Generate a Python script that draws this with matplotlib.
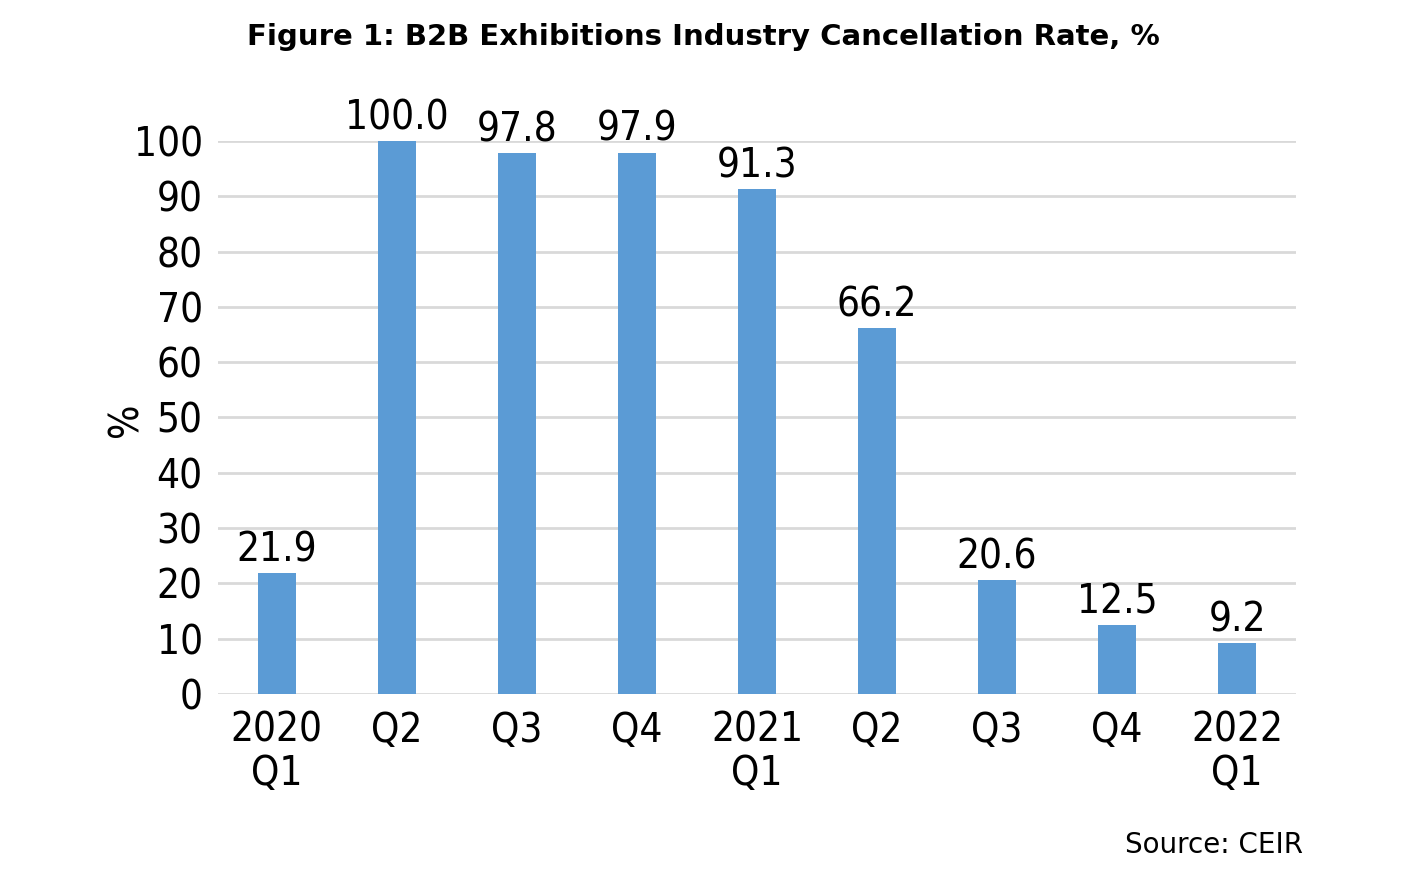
import matplotlib.pyplot as plt

quarters = ["2020\nQ1", "Q2", "Q3", "Q4", "2021\nQ1", "Q2", "Q3", "Q4", "2022\nQ1"]
cancel_rate = [21.9, 100.0, 97.8, 97.9, 91.3, 66.2, 20.6, 12.5, 9.2]
y_ticks = [0, 10, 20, 30, 40, 50, 60, 70, 80, 90, 100]

BAR_COLOR = "#5b9bd5"
GRID_COLOR = "#d9d9d9"

# condensed DejaVu is the closest installed match to the original Tahoma-like face
plt.rcParams["font.family"] = ["DejaVu Sans"]
plt.rcParams["font.stretch"] = "condensed"

fig = plt.figure(figsize=(14.24, 8.8), dpi=100)
ax = fig.add_axes([0.1531, 0.2114, 0.757, 0.6284])

x = list(range(len(quarters)))
bars = ax.bar(x, cancel_rate, width=0.32, color=BAR_COLOR, zorder=3)

for b, v in zip(bars, cancel_rate):
    ax.annotate(f"{v:.1f}", (b.get_x() + b.get_width() / 2, v),
                xytext=(0, 2), textcoords="offset points",
                ha="center", va="bottom", fontsize=29,
                annotation_clip=False)

ax.set_xlim(-0.49, len(quarters) - 0.51)
ax.set_ylim(0, 100)
ax.set_yticks(y_ticks)
ax.set_xticks(x)
ax.set_xticklabels(quarters, linespacing=1.1)
ax.tick_params(axis="both", length=0, labelsize=29)
ax.tick_params(axis="x", pad=12)
ax.tick_params(axis="y", pad=11)
ax.yaxis.grid(True, color=GRID_COLOR, lw=2)
ax.set_axisbelow(True)
for s in ax.spines.values():
    s.set_visible(False)

ax.set_ylabel("%", fontsize=29)
ax.yaxis.set_label_coords(-0.066, 0.495)

fig.text(0.4937, 0.958, "Figure 1: B2B Exhibitions Industry Cancellation Rate, %",
         ha="center", va="center", fontsize=21, fontweight="bold", stretch="normal")
fig.text(0.915, 0.04, "Source: CEIR", ha="right", va="center", fontsize=20,
         stretch="normal")

fig.savefig("out.png", dpi=100)
